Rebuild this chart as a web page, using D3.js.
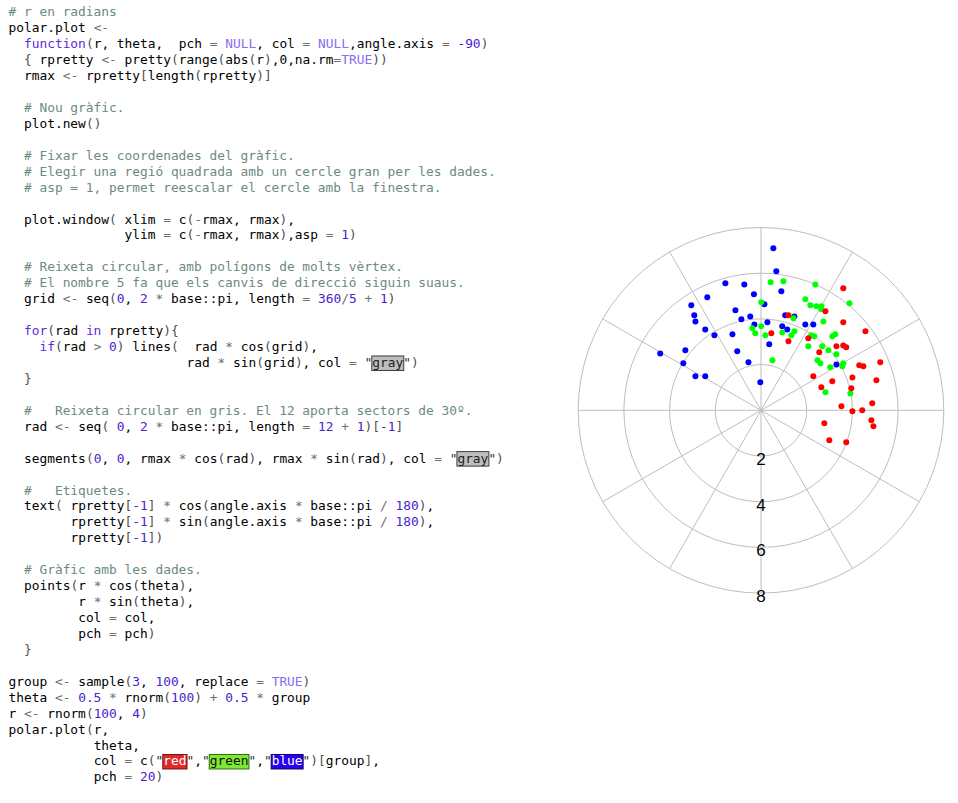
<!DOCTYPE html>
<html>
<head>
<meta charset="utf-8">
<script src="https://cdn.jsdelivr.net/npm/d3@7"></script>
<style>
  html, body { margin: 0; padding: 0; background: #fff; }
  svg { display: block; }
</style>
</head>
<body>
<div id="vis"></div>
<script>
// Left: the R source listing. Right: the polar plot it produces.

// ── Code listing ────────────────────────────────────────────────────────────
const CODE_LINES = [
  "# r en radians",
  "polar.plot <-",
  "  function(r, theta,  pch = NULL, col = NULL,angle.axis = -90)",
  "  { rpretty <- pretty(range(abs(r),0,na.rm=TRUE))",
  "  rmax <- rpretty[length(rpretty)]",
  "",
  "  # Nou gràfic.",
  "  plot.new()",
  "",
  "  # Fixar les coordenades del gràfic.",
  "  # Elegir una regió quadrada amb un cercle gran per les dades.",
  "  # asp = 1, permet reescalar el cercle amb la finestra.",
  "",
  "  plot.window( xlim = c(-rmax, rmax),",
  "               ylim = c(-rmax, rmax),asp = 1)",
  "",
  "  # Reixeta circular, amb polígons de molts vèrtex.",
  "  # El nombre 5 fa que els canvis de direcció siguin suaus.",
  "  grid <- seq(0, 2 * base::pi, length = 360/5 + 1)",
  "",
  "  for(rad in rpretty){",
  "    if(rad > 0) lines(  rad * cos(grid),",
  "                       rad * sin(grid), col = \"gray\")",
  "  }",
  "",
  "  #   Reixeta circular en gris. El 12 aporta sectors de 30º.",
  "  rad <- seq( 0, 2 * base::pi, length = 12 + 1)[-1]",
  "",
  "  segments(0, 0, rmax * cos(rad), rmax * sin(rad), col = \"gray\")",
  "",
  "  #   Etiquetes.",
  "  text( rpretty[-1] * cos(angle.axis * base::pi / 180),",
  "        rpretty[-1] * sin(angle.axis * base::pi / 180),",
  "        rpretty[-1])",
  "",
  "  # Gràfic amb les dades.",
  "  points(r * cos(theta),",
  "         r * sin(theta),",
  "         col = col,",
  "         pch = pch)",
  "  }",
  "",
  "group <- sample(3, 100, replace = TRUE)",
  "theta <- 0.5 * rnorm(100) + 0.5 * group",
  "r <- rnorm(100, 4)",
  "polar.plot(r,",
  "           theta,",
  "           col = c(\"red\",\"green\",\"blue\")[group],",
  "           pch = 20)",
];

// RStudio-like colour previews drawn behind colour-name strings
const SWATCHES = {
  gray:  { fill: "#bebebe", stroke: "#3c3c3c", text: "#202020" },
  red:   { fill: "#de2a2a", stroke: "#7a1010", text: "#ffffff" },
  green: { fill: "#7ee832", stroke: "#2e6a10", text: "#101010" },
  blue:  { fill: "#2a00f0", stroke: "#10005a", text: "#ffffff" },
};

// ── Plot data (x = r*cos(theta), y = r*sin(theta)) ──
const RINGS       = [2, 4, 6, 8];
const RMAX        = 8;
const N_SPOKES    = 12;
const ANGLE_AXIS  = -90;

const BLUE_X  = [0.54, 0.67, -1.56, -0.73, 0.89, -0.31, -2.35, 0.15, -3.05, -1.12, -2.92, -2.87,
                 -0.86, -0.47, 1.06, 1.46, -0.29, 0.28, -2.44, -2.04, -1.25, 0.93, 1.15, 1.94,
                 2.29, 0.36, -3.31, -4.41, -1.04, -3.40, -0.55, -2.87, -2.44, -0.03, 3.30];
const BLUE_Y  = [7.09, 6.08, 5.56, 5.51, 5.21, 5.08, 4.95, 4.64, 4.60, 4.38, 4.16, 3.89,
                 3.98, 4.11, 4.16, 4.11, 3.76, 3.85, 3.54, 3.28, 3.33, 3.68, 3.54, 3.76,
                 3.76, 2.89, 2.63, 2.49, 2.58, 2.06, 2.10, 1.49, 1.49, 1.23, 2.00];

const GREEN_X = [0.42, 0.98, 2.38, 1.94, 0.01, 2.16, 2.42, 2.64, 2.64, 3.87, 1.42, 2.73,
                 -0.38, 0.01, -0.25, 0.19, 0.93, 1.46, 1.33, 2.20, 2.33, 3.12, 3.25, 2.07,
                 2.68, 2.95, 3.30, 2.47, 2.60, 3.03, 3.56, 3.60, 0.50, 2.82, 3.91];
const GREEN_Y = [5.60, 5.65, 5.51, 4.86, 4.73, 4.60, 4.55, 4.55, 4.42, 4.68, 4.03, 3.89,
                 3.59, 3.68, 3.37, 3.28, 3.41, 3.46, 3.28, 3.28, 3.24, 3.24, 3.33, 2.80,
                 2.80, 2.63, 2.45, 2.19, 2.06, 1.88, 1.93, 2.06, 2.19, 0.79, 0.74];

const RED_X   = [3.60, 2.82, 1.20, 3.60, 4.57, 0.45, 2.07, 1.20, 3.30, 3.60, 3.73, 2.55,
                 4.30, 4.48, 5.22, 2.29, 3.12, 4.00, 5.05, 2.64, 3.95, 4.87, 3.52, 4.00,
                 4.43, 4.83, 4.92, 2.77, 2.99, 3.73];
const RED_Y   = [5.34, 4.33, 4.16, 3.85, 3.46, 3.37, 3.15, 3.02, 2.80, 2.84, 2.76, 2.54,
                 1.97, 1.93, 2.10, 1.49, 1.27, 1.44, 1.31, 1.01, 0.96, 0.31, 0.18, -0.04,
                 0.00, -0.44, -0.70, -0.57, -1.31, -1.40];

const GROUPS = [
  { color: "#0000ff", xs: BLUE_X,  ys: BLUE_Y  },
  { color: "#00ff00", xs: GREEN_X, ys: GREEN_Y },
  { color: "#ff0000", xs: RED_X,   ys: RED_Y   },
];

// ── Layout ──────────────────────────────────────────────────────────────────
const W = 958, H = 803;
const CODE_X0  = 8.5;     // left edge of column 0
const CHAR_W   = 7.74;    // monospace advance
const LINE_H   = 15.94;
const BASE_Y0  = 16.3;    // baseline of first line

const CX = 761, CY = 410.3, R_PX = 182.8;

const svg = d3.select("#vis").append("svg")
  .attr("width", W)
  .attr("height", H);

svg.append("rect").attr("width", W).attr("height", H).attr("fill", "#fff");

// ── Code rendering with a tiny R tokenizer ─────────────────────────────────
const TOKEN_RE = /(#.*$)|("[^"]*")|(-?\b\d+(?:\.\d+)?\b)|\b(function|for|if|in)\b|\b(NULL|TRUE)\b|(<-|[=*+\/>\-])|([(){}\[\]])|([^\s]+?(?=[\s"(){}\[\]=*+\/>,<-]|$)|,)|(\s+)/g;

const COLORS = {
  comment: "#6c8a7e",
  num:     "#4a22cc",
  kw:      "#5b2be0",
  const:   "#8a6cf0",
  op:      "#707070",
  bracket: "#505050",
  plain:   "#000000",
  string:  "#303030",
};

const codeG = svg.append("g")
  .style("font-family", "'DejaVu Sans Mono', 'Liberation Mono', monospace")
  .style("font-size", (CHAR_W / 0.602) + "px");

function putText(col, baseline, str, color) {
  codeG.append("text")
    .attr("x", CODE_X0 + col * CHAR_W)
    .attr("y", baseline)
    .attr("fill", color)
    .attr("xml:space", "preserve")
    .text(str);
}

CODE_LINES.forEach((line, i) => {
  const baseline = BASE_Y0 + i * LINE_H;
  let m;
  TOKEN_RE.lastIndex = 0;
  while ((m = TOKEN_RE.exec(line)) !== null) {
    if (m[0].length === 0) { TOKEN_RE.lastIndex++; continue; }
    const col = m.index;
    if (m[9]) continue;
    if (m[1]) { putText(col, baseline, m[1], COLORS.comment); continue; }
    if (m[2]) {
      const inner = m[2].slice(1, -1);
      const sw = SWATCHES[inner];
      putText(col, baseline, '"', COLORS.string);
      if (sw) {
        codeG.append("rect")
          .attr("x", CODE_X0 + (col + 1) * CHAR_W - 0.5)
          .attr("y", baseline - 11)
          .attr("width", inner.length * CHAR_W + 1)
          .attr("height", 14.5)
          .attr("fill", sw.fill)
          .attr("stroke", sw.stroke)
          .attr("stroke-width", 1);
      }
      putText(col + 1, baseline, inner, sw ? sw.text : COLORS.string);
      putText(col + 1 + inner.length, baseline, '"', COLORS.string);
      continue;
    }
    if (m[3]) { putText(col, baseline, m[3], COLORS.num); continue; }
    if (m[4]) { putText(col, baseline, m[4], COLORS.kw); continue; }
    if (m[5]) { putText(col, baseline, m[5], COLORS.const); continue; }
    if (m[6]) { putText(col, baseline, m[6], COLORS.op); continue; }
    if (m[7]) { putText(col, baseline, m[7], COLORS.bracket); continue; }
    putText(col, baseline, m[0], COLORS.plain);
  }
});

// ── Polar plot ──────────────────────────────────────────────────────────────
const x = d3.scaleLinear().domain([-RMAX, RMAX]).range([CX - R_PX, CX + R_PX]);
const y = d3.scaleLinear().domain([-RMAX, RMAX]).range([CY + R_PX, CY - R_PX]);

const plotG = svg.append("g");

// circular grid as 72-sided polygons
const grid = d3.range(73).map(k => k * 2 * Math.PI / 72);
const ringLine = d3.line().x(d => x(d[0])).y(d => y(d[1]));
plotG.selectAll("path.ring")
  .data(RINGS)
  .join("path")
    .attr("class", "ring")
    .attr("d", r => ringLine(grid.map(a => [r * Math.cos(a), r * Math.sin(a)])))
    .attr("fill", "none")
    .attr("stroke", "#bebebe")
    .attr("stroke-width", 1);

// spokes every 30°
const spokes = d3.range(1, N_SPOKES + 1).map(k => k * 2 * Math.PI / N_SPOKES);
plotG.selectAll("line.spoke")
  .data(spokes)
  .join("line")
    .attr("class", "spoke")
    .attr("x1", x(0)).attr("y1", y(0))
    .attr("x2", a => x(RMAX * Math.cos(a)))
    .attr("y2", a => y(RMAX * Math.sin(a)))
    .attr("stroke", "#bebebe")
    .attr("stroke-width", 1);

// ring labels along angle.axis
const aa = ANGLE_AXIS * Math.PI / 180;
plotG.selectAll("text.lab")
  .data(RINGS)
  .join("text")
    .attr("class", "lab")
    .attr("x", r => x(r * Math.cos(aa)))
    .attr("y", r => y(r * Math.sin(aa)) + 9)
    .attr("text-anchor", "middle")
    .style("font-family", "'Liberation Sans', Arial, sans-serif")
    .style("font-size", "17px")
    .attr("fill", "#000")
    .text(r => r);

// points (pch = 20)
GROUPS.forEach(g => {
  plotG.append("g")
    .selectAll("circle")
    .data(g.xs.map((v, k) => [v, g.ys[k]]))
    .join("circle")
      .attr("cx", d => x(d[0]))
      .attr("cy", d => y(d[1]))
      .attr("r", 3)
      .attr("fill", g.color);
});
</script>
</body>
</html>
